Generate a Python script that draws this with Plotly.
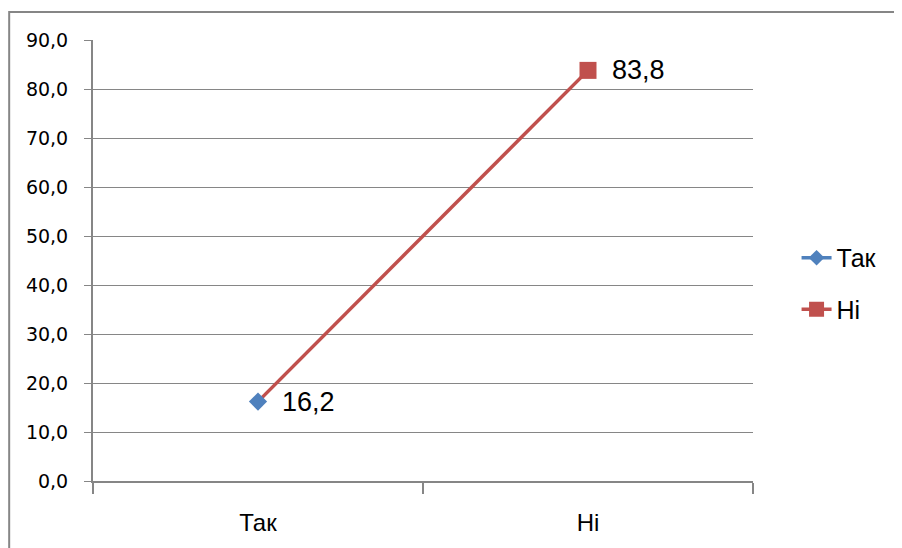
import plotly.graph_objects as go

categories = ["Так", "Ні"]
values = [16.2, 83.8]
value_labels = ["16,2", "83,8"]
point_colors = ["#4F81BD", "#C0504D"]
point_symbols = ["diamond", "square"]
point_sizes = [14, 17]
y_ticks = [0, 10, 20, 30, 40, 50, 60, 70, 80, 90]

fig = go.Figure()

# main line (single series, colours varied by point)
fig.add_trace(go.Scatter(
    x=categories, y=values, mode="lines+markers",
    line=dict(color="#C0504D", width=3.5),
    marker=dict(color=point_colors, symbol=point_symbols, size=point_sizes,
                opacity=1, line=dict(width=0)),
    showlegend=False, hoverinfo="x+y",
))

# legend entries
for i, c in enumerate(categories):
    fig.add_trace(go.Scatter(
        x=[None], y=[None], mode="lines+markers", name=c,
        line=dict(color=point_colors[i], width=3.5),
        marker=dict(color=point_colors[i], symbol=point_symbols[i], size=point_sizes[i] - 2),
        legendgroup=c,
    ))

for c, v, t in zip(categories, values, value_labels):
    fig.add_annotation(x=c, y=v, text=t, showarrow=False, xanchor="left", yanchor="middle",
                       xshift=22, font=dict(family="Liberation Sans, Arial, sans-serif", size=27, color="#000000"))

fig.add_shape(type="rect", xref="paper", yref="paper", x0=-0.127, x1=1.3, y0=-0.3, y1=1.0635,
              line=dict(color="#868686", width=2), fillcolor="rgba(0,0,0,0)", layer="below")

fig.update_layout(
    width=894, height=540,
    margin=dict(l=85, r=149, t=32, b=67),
    paper_bgcolor="white", plot_bgcolor="white",
    separators=", ",
    showlegend=True,
    legend=dict(x=1.066, y=0.448, xanchor="left", yanchor="middle",
                font=dict(family="Liberation Sans, Arial, sans-serif", size=25, color="#000000"),
                tracegroupgap=16, bgcolor="rgba(0,0,0,0)"),
    xaxis=dict(
        type="category", range=[-0.5, 1.5], tickson="boundaries",
        ticks="outside", ticklen=11, tickcolor="#868686", tickwidth=2,
        showline=True, linecolor="#868686", linewidth=2, showgrid=False,
        tickfont=dict(family="Liberation Sans, Arial, sans-serif", size=24, color="#000000"),
        ticklabelstandoff=19,
    ),
    yaxis=dict(
        range=[0, 90], tickvals=y_ticks, tickformat=".1f",
        ticks="outside", ticklen=7, tickcolor="#868686", tickwidth=1,
        showline=True, linecolor="#868686", linewidth=2,
        showgrid=True, gridcolor="#868686", gridwidth=1, zeroline=False,
        tickfont=dict(family="DejaVu Sans, Verdana, sans-serif", size=19, color="#000000"),
        ticklabelstandoff=12,
    ),
)

fig.write_html("out.html")
